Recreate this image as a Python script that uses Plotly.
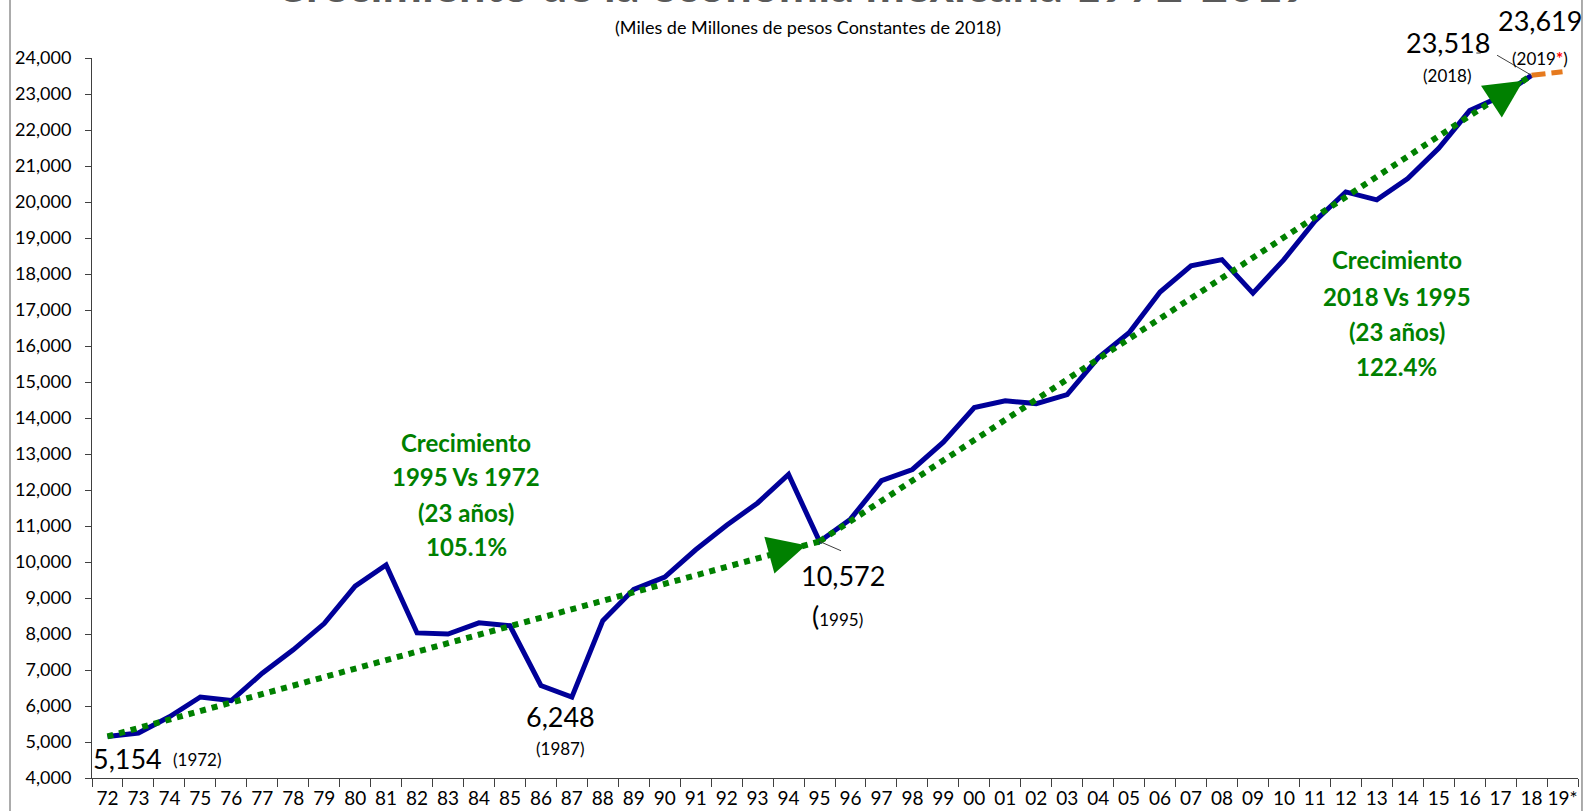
import plotly.graph_objects as go

# ---------------- data ----------------
year_labels = ["72", "73", "74", "75", "76", "77", "78", "79", "80", "81", "82", "83",
               "84", "85", "86", "87", "88", "89", "90", "91", "92", "93", "94", "95",
               "96", "97", "98", "99", "00", "01", "02", "03", "04", "05", "06", "07",
               "08", "09", "10", "11", "12", "13", "14", "15", "16", "17", "18", "19*"]

# GDP 1972-2018 (miles de millones de pesos constantes de 2018)
gdp = [5154, 5250, 5700, 6250, 6150, 6910, 7560, 8290, 9330, 9920, 8030, 8000,
       8310, 8230, 6570, 6248, 8370, 9240, 9580, 10340, 11020, 11640, 12430, 10572,
       11190, 12260, 12570, 13330, 14290, 14480, 14400, 14650, 15670, 16370, 17500, 18230,
       18400, 17470, 18400, 19470, 20280, 20060, 20650, 21490, 22540, 22930, 23518]

forecast_x = ["18", "19*"]
forecast_y = [23518, 23619]

trend1_x = ["72", "95"]
trend1_y = [5154, 10572]
trend2_x = ["95", "18"]
trend2_y = [10572, 23518]

growth1_lines = ["Crecimiento", "1995 Vs 1972", "(23 años)", "105.1%"]
growth2_lines = ["Crecimiento", "2018 Vs 1995", "(23 años)", "122.4%"]

title_text = "Crecimiento de la economía mexicana 1972-2019"
subtitle_text = "(Miles de Millones de pesos Constantes de 2018)"

# ---------------- style ----------------
FONT = "Lato, 'Open Sans', sans-serif"
BLUE = "#000099"
GREEN = "#008000"
ORANGE = "#E67A1E"
AXIS = "#404040"

idx = {lbl: i for i, lbl in enumerate(year_labels)}

fig = go.Figure()

fig.add_trace(go.Scatter(x=year_labels[:len(gdp)], y=gdp, mode="lines",
                         line=dict(color=BLUE, width=5), hoverinfo="x+y"))
fig.add_trace(go.Scatter(x=forecast_x, y=forecast_y, mode="lines",
                         line=dict(color=ORANGE, width=5, dash="14px,6px")))
fig.add_trace(go.Scatter(x=trend1_x, y=trend1_y, mode="lines",
                         line=dict(color=GREEN, width=6, dash="dot")))
fig.add_trace(go.Scatter(x=trend2_x, y=trend2_y, mode="lines",
                         line=dict(color=GREEN, width=6, dash="dot")))

ann = []

# arrow heads for trend lines
ann.append(dict(x=idx[trend1_x[1]], y=trend1_y[1], xref="x", yref="y", text="", showarrow=True,
                arrowhead=2, arrowsize=3.8, arrowwidth=2, arrowcolor=GREEN,
                ax=-40, ay=11, standoff=14))
ann.append(dict(x=idx[trend2_x[1]], y=trend2_y[1], xref="x", yref="y", text="", showarrow=True,
                arrowhead=2, arrowsize=3.8, arrowwidth=2, arrowcolor=GREEN,
                ax=-29, ay=19, standoff=10))

# leader lines
ann.append(dict(x=idx["95"], y=trend1_y[1], xref="x", yref="y", text="", showarrow=True,
                arrowhead=0, arrowwidth=1, arrowcolor="#404040", ax=23, ay=10, standoff=0))
ann.append(dict(x=idx["18"], y=gdp[-1], xref="x", yref="y", text="", showarrow=True,
                arrowhead=0, arrowwidth=1, arrowcolor="#404040", ax=-36, ay=-21, standoff=0))
ann.append(dict(x=0.9346, y=1.0069, xref="paper", yref="paper", text="", showarrow=True,
                arrowhead=0, arrowwidth=1, arrowcolor="#404040", ax=-6, ay=0, standoff=0))


def label(x, y, text, size, color="black", bold=False, ref="x"):
    if bold:
        text = "<b>" + text + "</b>"
    ann.append(dict(x=x, y=y, xref=ref, yref=("y" if ref == "x" else "paper"), text=text,
                    showarrow=False, xanchor="center", yanchor="middle",
                    font=dict(family=FONT, size=size, color=color)))


label(0.66, 4550, f"{gdp[0]:,}", 27)
label(2.9, 4522, "(1972)", 17)
label(14.62, 5716, f"{gdp[15]:,}", 27)
label(14.62, 4827, "(1987)", 17)
label(23.76, 9632, f"{gdp[23]:,}", 27)
label(23.57, 8521, "<span style='font-size:27px'>(</span>1995)", 17)
label(0.9125, 1.0222, f"{gdp[-1]:,}", 27, ref="paper")
label(43.29, 23522, "(2018)", 17)
label(0.9744, 1.0514, f"{forecast_y[-1]:,}", 27, ref="paper")
label(46.26, 23994, "(2019<span style='color:red'><b>*</b></span>)", 17)

for txt, yv in zip(growth1_lines, [13306, 12389, 11389, 10444]):
    label(11.59, yv, txt, 24, GREEN, bold=True)
for txt, yv in zip(growth2_lines, [18397, 17383, 16397, 15425]):
    label(41.65, yv, txt, 24, GREEN, bold=True)

# title (clipped at the top as in the original) and subtitle
ann.append(dict(x=0.4717, y=1.0612, xref="paper", yref="paper", text="<b>" + title_text + "</b>",
                showarrow=False, xanchor="center", yanchor="bottom",
                font=dict(family=FONT, size=47, color="#595959")))
ann.append(dict(x=0.4818, y=1.0425, xref="paper", yref="paper", text=subtitle_text,
                showarrow=False, xanchor="center", yanchor="middle",
                font=dict(family=FONT, size=18, color="black")))

shapes = [
    dict(type="line", xref="paper", yref="paper", x0=-0.05518, x1=-0.05518, y0=-0.2, y1=1.2,
         line=dict(color="#595959", width=1)),
    dict(type="line", xref="paper", yref="paper", x0=1.00269, x1=1.00269, y0=-0.2, y1=1.2,
         line=dict(color="#595959", width=1)),
]

fig.update_layout(
    width=1589, height=811,
    margin=dict(l=92, r=11, t=58, b=33),
    paper_bgcolor="white", plot_bgcolor="white",
    showlegend=False,
    font=dict(family=FONT, color="black"),
    annotations=ann,
    shapes=shapes,
    xaxis=dict(type="category", categoryorder="array", categoryarray=year_labels,
               range=[-0.5, len(year_labels) - 0.5], tickson="boundaries",
               ticks="outside", ticklen=8, tickcolor=AXIS, showline=True, linecolor=AXIS,
               linewidth=1, showgrid=False, zeroline=False, tickangle=0, automargin=False,
               tickfont=dict(family=FONT, size=19, color="black"), ticklabelstandoff=3),
    yaxis=dict(range=[4000, 24000], dtick=1000, tickformat=",", ticks="outside",
               ticklen=6, tickcolor=AXIS, showline=True, linecolor=AXIS, linewidth=1,
               showgrid=False, zeroline=False, automargin=False,
               tickfont=dict(family=FONT, size=18, color="black"), ticklabelstandoff=10),
)

fig.write_html("out.html", config={"displayModeBar": False},
               post_script="document.body.style.margin='0';document.body.style.overflow='hidden';")
